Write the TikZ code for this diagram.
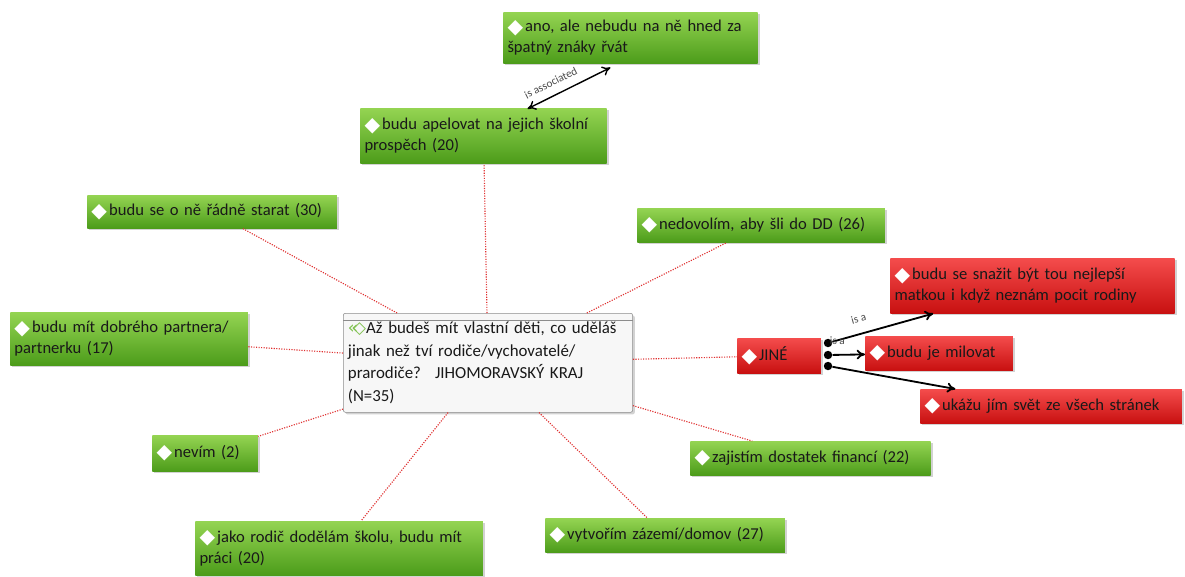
\documentclass[tikz,border=0pt]{standalone}
\usepackage{fontspec}
\setmainfont{Carlito}
\newfontfamily\symfont{DejaVu Sans}
\usetikzlibrary{arrows.meta,shadows,calc}
\definecolor{gtop}{HTML}{94D452}
\definecolor{gbot}{HTML}{4C9C1A}
\definecolor{rtop}{HTML}{F44C4C}
\definecolor{rbot}{HTML}{C81010}
\definecolor{dotred}{HTML}{E03030}
\definecolor{icongreen}{HTML}{7CC04A}
\newcommand{\dia}{{\symfont\Large\color{white}\raisebox{-1pt}{◆}}\hspace{1.5pt}}

\begin{document}
\begin{tikzpicture}[
item/.style={anchor=north west, align=left, inner xsep=3pt, font=\fontsize{11.8}{15}\selectfont, text=black!90, drop shadow={shadow xshift=1.5pt,shadow yshift=-1.5pt,opacity=0.35}, text width=#1},
gbox/.style={item=#1, top color=gtop, bottom color=gbot, minimum height=0.85cm},
rbox/.style={item=#1, top color=rtop, bottom color=rbot, minimum height=0.85cm},
link/.style={dotred, densely dotted, line width=0.8pt},
arrow/.style={-{To[length=6pt,width=7pt]}, line width=1.3pt},
dot/.style={circle, fill=black, inner sep=0pt, minimum size=6pt}
]
\useasboundingbox[fill=white] (0,0) rectangle (29.625,-14.4);

% question in the middle
\node[anchor=north west, align=left, text width=7.0cm, minimum height=2.475cm, fill=black!3, draw=black!45, rounded corners=1.5pt, drop shadow={shadow xshift=1.5pt,shadow yshift=-1.5pt,opacity=0.35}, font=\fontsize{12}{16}\selectfont, text=black!90] (ctr) at (8.575,-7.825) {\raisebox{4pt}{}{\symfont\color{icongreen}«\kern-0.3em◇}Až budeš mít vlastní děti, co uděláš\\ jinak než tví rodiče/vychovatelé/\\ prarodiče?~ JIHOMORAVSKÝ KRAJ\\ (N=35)};
\draw[black!45] ([yshift=-5pt]ctr.north west) -- ([yshift=-5pt]ctr.north east);

% answers
\node[gbox=6.15cm, minimum height=1.275cm] (ano) at (12.575,-0.3) {\dia ano, ale nebudu na ně hned za\\ špatný znáky řvát};
\node[gbox=5.95cm, minimum height=1.375cm] (apel) at (9.0,-2.7) {\dia budu apelovat na jejich školní\\ prospěch (20)};
\node[gbox=6.03cm, minimum height=0.825cm] (starat) at (2.175,-4.875) {\dia budu se o ně řádně starat (30)};
\node[gbox=5.98cm] (dd) at (15.925,-5.2) {\dia nedovolím, aby šli do DD (26)};
\node[gbox=5.73cm, minimum height=1.325cm] (partner) at (0.25,-7.8) {\dia budu mít dobrého partnera/\\ partnerku (17)};
\node[gbox=2.43cm, minimum height=0.9cm] (nevim) at (3.8,-10.875) {\dia nevím (2)};
\node[gbox=5.8cm] (financi) at (17.25,-11.025) {\dia zajistím dostatek financí (22)};
\node[gbox=6.98cm, minimum height=1.35cm] (skola) at (4.875,-13.025) {\dia jako rodič dodělám školu, budu mít\\ práci (20)};
\node[gbox=5.78cm] (domov) at (13.625,-12.95) {\dia vytvořím zázemí/domov (27)};

% jine
\node[rbox=1.88cm, minimum height=0.875cm] (jine) at (18.425,-8.45) {\dia JINÉ};
\node[rbox=6.9cm, minimum height=1.375cm] (matka) at (22.25,-6.45) {\dia budu se snažit být tou nejlepší\\ matkou i když neznám pocit rodiny};
\node[rbox=3.48cm] (milovat) at (21.625,-8.4) {\dia budu je milovat};
\node[rbox=6.33cm] (svet) at (23.0,-9.725) {\dia ukážu jím svět ze všech stránek};

\node[dot] (d1) at (20.7,-8.575) {};
\node[dot] (d2) at (20.7,-8.875) {};
\node[dot] (d3) at (20.7,-9.15) {};

% dotted links
\foreach \n in {apel,starat,dd,partner,jine,nevim,financi,skola,domov}
  \draw[link] (ctr) -- (\n);

\draw[{To[length=6pt,width=7pt]}-{To[length=6pt,width=7pt]}, line width=1pt] ($(apel.north)+(1.1,-0.02)$) -- node[sloped, above=2.5pt, pos=0.35, font=\footnotesize, text=black!70] {is associated} ($(ano.south)+(-0.5,-0.1)$);

\draw[arrow] (d1) -- node[sloped, above=4pt, pos=0.3, font=\footnotesize, text=black!70] {is a} (matka);
\draw[arrow] (d2) -- node[above=3pt, pos=0.15, font=\footnotesize, text=black!70] {is a} (milovat);
\draw[arrow] (d3) -- (svet);

\end{tikzpicture}
\end{document}
